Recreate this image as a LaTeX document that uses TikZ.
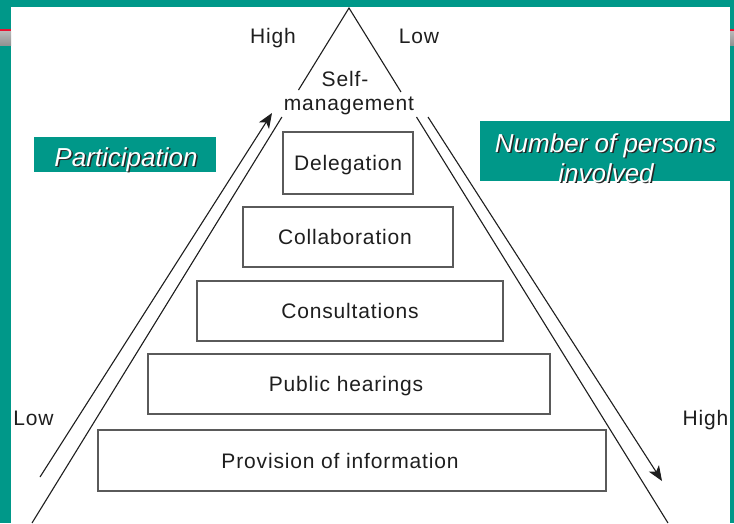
\documentclass[tikz,border=0pt]{standalone}
\usepackage{fontspec}
\setmainfont{Liberation Sans}
\newfontfamily\boxfont[LetterSpace=4]{Liberation Sans}
\usetikzlibrary{arrows.meta}
\definecolor{tealbg}{RGB}{0,152,137}
\definecolor{ink}{RGB}{30,30,30}
\definecolor{boxgray}{RGB}{90,90,90}
\definecolor{redline}{RGB}{230,20,50}
\begin{document}
\begin{tikzpicture}[x=1pt,y=-1pt,
  levelbox/.style={draw=boxgray,line width=1.4pt,fill=none,inner sep=0pt},
  leveltext/.style={anchor=base,inner sep=0pt,text=ink,font=\boxfont\fontsize{21}{24}\selectfont},
  sidetext/.style={anchor=base,inner sep=0pt,text=ink,font=\boxfont\fontsize{21}{24}\selectfont},
  side/.style={draw=ink,line width=1.1pt},
  flow/.style={draw=ink,line width=1.1pt,-{Stealth[length=15pt,width=12pt,inset=4pt]}},
  banner/.style={fill=tealbg,draw=none,inner sep=0pt},
  bannertext/.style={anchor=base,inner sep=0pt,text=white,font=\itshape\fontsize{26}{30}\selectfont},
  bannershadow/.style={anchor=base,inner sep=0pt,text=black!85,font=\itshape\fontsize{26}{30}\selectfont}
]
\useasboundingbox (0,0) rectangle (734,523);
\fill[white] (0,0) rectangle (734,523);
% frame
\fill[tealbg] (0,0) rectangle (734,7);
\fill[tealbg] (0,0) rectangle (11,523);
\fill[tealbg] (730,0) rectangle (734,523);
\fill[redline] (0,29) rectangle (11,31);
\shade[top color=gray!55,bottom color=gray!85] (0,31) rectangle (11,45);
\fill[redline] (730,29) rectangle (734,31);
\shade[top color=gray!55,bottom color=gray!85] (730,31) rectangle (734,45);

% triangle
\coordinate (apex) at (349,8);
\coordinate (lup) at (298.5,90);
\coordinate (rup) at (401,92);
\coordinate (llow) at (281.9,117);
\coordinate (lbot) at (32,523);
\coordinate (rlow) at (416.5,117);
\coordinate (rbot) at (668,523);
\draw[side] (lup) -- (apex) -- (rup);
\draw[side] (llow) -- (lbot);
\draw[side] (rlow) -- (rbot);

% arrows
\coordinate (pstart) at (40,477);
\coordinate (pend) at (272,113);
\coordinate (nstart) at (428,117);
\coordinate (nend) at (662,481);
\draw[flow] (pstart) -- (pend);
\draw[flow] (nstart) -- (nend);

% level boxes
\node[levelbox,minimum width=130pt,minimum height=62pt] (deleg) at (348,163) {};
\node[levelbox,minimum width=210pt,minimum height=60pt] (collab) at (348,237) {};
\node[levelbox,minimum width=306pt,minimum height=60pt] (consult) at (350,311) {};
\node[levelbox,minimum width=402pt,minimum height=60pt] (hear) at (349,384) {};
\node[levelbox,minimum width=508pt,minimum height=61pt] (info) at (352,460.5) {};

\node[leveltext] (delegt) at (348,170) {Delegation};
\node[leveltext] (collabt) at (345,244.5) {Collaboration};
\node[leveltext] (consultt) at (350,318.5) {Consultations};
\node[leveltext] (heart) at (346,391.5) {Public hearings};
\node[leveltext] (infot) at (340,468) {Provision of information};

% top and side labels
\node[leveltext] (self) at (345,86) {Self-};
\node[leveltext] (mgmt) at (349,110) {management};
\node[sidetext] (tophigh) at (273,43) {High};
\node[sidetext] (toplow) at (419,43) {Low};
\node[sidetext] (leftlow) at (33.5,425) {Low};
\node[sidetext] (righthigh) at (705.5,425) {High};

% banners
\node[banner,minimum width=182pt,minimum height=35pt] (partbox) at (125,154.5) {};
\node[bannershadow] (partsh) at (127.5,167.5) {Participation};
\node[bannertext] (partt) at (126,166) {Participation};

\node[banner,minimum width=250pt,minimum height=60pt] (numbox) at (605,151) {};
\node[bannershadow] (numsh1) at (607,153.5) {Number of persons};
\node[bannertext] (numt1) at (605.5,152) {Number of persons};
\node[bannershadow] (numsh2) at (607.5,183.5) {involved};
\node[bannertext] (numt2) at (606,182) {involved};
\end{tikzpicture}
\end{document}
